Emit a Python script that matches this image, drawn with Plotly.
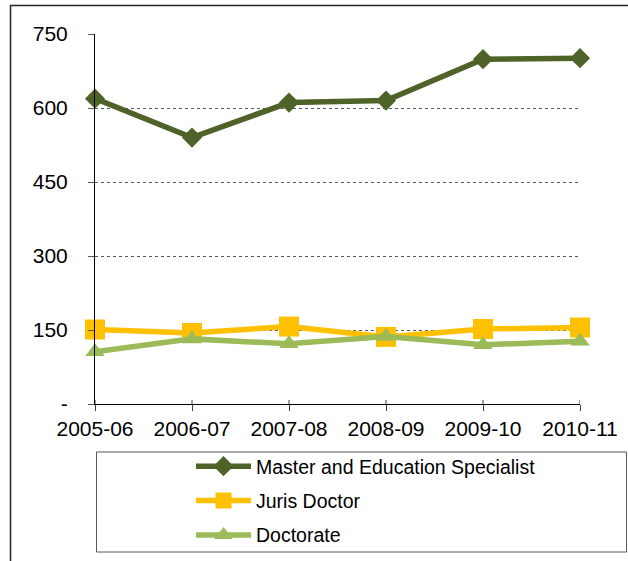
import plotly.graph_objects as go

years = ["2005-06", "2006-07", "2007-08", "2008-09", "2009-10", "2010-11"]
master = [619, 540, 611, 615, 699, 701]
juris = [151, 144, 157, 136, 152, 155]
doctorate = [106, 132, 122, 137, 120, 127]

ytick_vals = [0, 150, 300, 450, 600, 750]
ytick_text = ["-", "150", "300", "450", "600", "750"]

FONT = "Liberation Sans, Arial, sans-serif"
W, H = 628, 561
L, R, T, B = 95, 48, 34, 157
PW = W - L - R
PH = H - T - B


def px_x(p):
    return (p - L) / PW


def px_y(p):
    return (H - B - p) / PH


fig = go.Figure()
series = [
    ("Master and Education Specialist", master, "#4F6228", "diamond", 15.5),
    ("Juris Doctor", juris, "#FFC000", "square", 20),
    ("Doctorate", doctorate, "#9BBB59", "triangle-up", 17),
]
for i, (name, vals, col, sym, sz) in enumerate(series):
    fig.add_trace(go.Scatter(
        x=list(range(len(years))), y=vals, name=name, mode="lines+markers",
        line=dict(color=col, width=5.5),
        marker=dict(symbol=sym, size=sz, color=col),
        cliponaxis=False, legendgroup=str(i),
    ))

shapes = []
# outer frame (only top and left visible)
shapes.append(dict(type="rect", xref="paper", yref="paper",
                   x0=px_x(10.5), x1=px_x(700), y0=px_y(700), y1=px_y(5.5),
                   line=dict(color="#262626", width=1.5), fillcolor="rgba(0,0,0,0)", layer="below"))
# legend box
shapes.append(dict(type="rect", xref="paper", yref="paper",
                   x0=px_x(96.5), x1=px_x(626.5), y0=px_y(552), y1=px_y(452),
                   line=dict(color="#595959", width=1), fillcolor="rgba(0,0,0,0)"))
# crossing ticks on x axis (inner part)
for i in range(len(years)):
    shapes.append(dict(type="line", xref="x", yref="y", x0=i, x1=i,
                       ysizemode="pixel", yanchor=0, y0=0, y1=4,
                       line=dict(color="#404040", width=1)))

fig.update_layout(
    width=W, height=H,
    margin=dict(l=L, r=R, t=T, b=B, autoexpand=False),
    paper_bgcolor="white", plot_bgcolor="white",
    font=dict(family=FONT, color="black", size=21),
    showlegend=True,
    legend=dict(x=px_x(191), y=px_y(447), xanchor="left", yanchor="top",
                bgcolor="rgba(0,0,0,0)", borderwidth=0,
                font=dict(family=FONT, size=19.5, color="black"),
                itemwidth=55, tracegroupgap=6, traceorder="grouped"),
    shapes=shapes,
)
fig.update_xaxes(
    range=[0, len(years) - 1], tickvals=list(range(len(years))), ticktext=years,
    showline=True, linecolor="black", linewidth=1,
    ticks="outside", ticklen=6, tickcolor="#404040",
    showgrid=False, zeroline=False,
    tickfont=dict(family=FONT, size=21, color="black"),
)
fig.update_yaxes(
    range=[0, 750], tickvals=ytick_vals, ticktext=ytick_text,
    showline=True, linecolor="black", linewidth=1,
    ticks="outside", ticklen=6, tickcolor="#595959",
    showgrid=True, gridcolor="#595959", griddash="dot", gridwidth=1,
    zeroline=False, ticklabelstandoff=16,
    tickfont=dict(family=FONT, size=21, color="black"),
)

fig.write_html("out.html", config={"displayModeBar": False},
               post_script="document.body.style.margin='0';document.body.style.padding='0';")
